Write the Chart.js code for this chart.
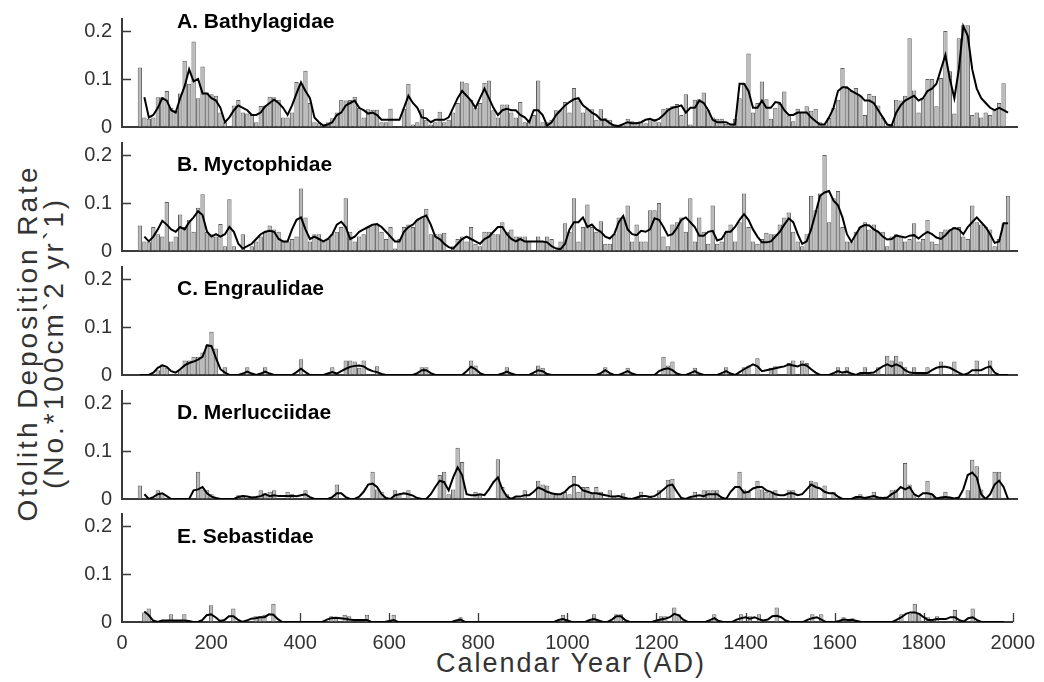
<!DOCTYPE html>
<html>
<head>
<meta charset="utf-8">
<script src="https://cdn.jsdelivr.net/npm/chart.js@4.4.1/dist/chart.umd.min.js"></script>
<style>
  body { margin: 0; background: #fff; font-family: "Liberation Sans", Arial, Helvetica, sans-serif; }
  #wrap { position: relative; width: 1044px; height: 682px; overflow: hidden; background: #fff; }
  canvas { position: absolute; left: 0; }
  .ptitle { position: absolute; left: 177px; font-weight: bold; font-size: 21px; line-height: 24px; color: #000; white-space: nowrap; }
  #ytitle { position: absolute; left: 41px; top: 343px; transform: translate(-50%, -50%) rotate(-90deg);
            white-space: nowrap; text-align: center; font-size: 28px; line-height: 26px; letter-spacing: 3px; color: #333; }
  #xtitle { position: absolute; left: 571px; top: 663px; transform: translate(-50%, -50%);
            white-space: nowrap; font-size: 27px; line-height: 30px; letter-spacing: 2px; color: #333; }
</style>
</head>
<body>
<div id="wrap">
  <div id="ytitle">Otolith Deposition Rate<br>(No.*100cm`2 yr`1)</div>
  <div id="xtitle">Calendar Year (AD)</div>
</div>
<script>
// --- DATA (10-yr bins, first bin at 40 AD) ---
const firstYear = 40, binStep = 10, nBins = 195;
const years = Array.from({ length: nBins }, (_, i) => firstYear + i * binStep);
const xTicks = [0, 200, 400, 600, 800, 1000, 1200, 1400, 1600, 1800, 2000];
const yTicks = [0, 0.1, 0.2];

const titles = ['A. Bathylagidae', 'B. Myctophidae', 'C. Engraulidae', 'D. Merlucciidae', 'E. Sebastidae'];

// A. Bathylagidae
const barsA = [
  0.124, 0.02, 0.017, 0.02, 0.062, 0.062, 0.075, 0.04, 0.035, 0.07, 0.138, 0.09, 0.178, 0.06, 0.126, 0.072, 0.068, 0.065, 0.03, 0.01,
  0, 0.045, 0.056, 0.03, 0.028, 0.025, 0.01, 0.044, 0.045, 0.063, 0.062, 0.057, 0.02, 0.02, 0.03, 0.094, 0.09, 0.117, 0.05, 0.01,
  0.008, 0, 0.01, 0.018, 0.03, 0.057, 0.055, 0.056, 0.063, 0.04, 0.02, 0.037, 0.036, 0.036, 0.01, 0.01, 0.038, 0, 0, 0.038,
  0.09, 0.005, 0.01, 0.037, 0.015, 0.005, 0.01, 0.032, 0.01, 0.015, 0.03, 0.05, 0.095, 0.091, 0.057, 0.04, 0.05, 0.092, 0.097, 0.035,
  0.02, 0.047, 0.047, 0.03, 0.02, 0.052, 0.01, 0.015, 0.025, 0.097, 0.01, 0.01, 0.015, 0.035, 0.035, 0.052, 0.03, 0.081, 0.055, 0.03,
  0.038, 0.037, 0.015, 0.037, 0.018, 0.015, 0.005, 0, 0.005, 0.017, 0.012, 0.01, 0.01, 0.008, 0.017, 0.017, 0.01, 0.038, 0.04, 0.043,
  0.048, 0.025, 0.068, 0.005, 0.057, 0.058, 0.072, 0.035, 0.02, 0.017, 0.017, 0.007, 0.005, 0.017, 0.06, 0.091, 0.153, 0.03, 0.05, 0.095,
  0.058, 0.017, 0.04, 0.048, 0.074, 0.024, 0.012, 0.038, 0.031, 0.043, 0.034, 0.038, 0.01, 0.005, 0.019, 0.04, 0.057, 0.123, 0.081, 0.075,
  0.081, 0.065, 0.025, 0.069, 0.065, 0.045, 0.02, 0.003, 0.005, 0.057, 0.055, 0.065, 0.185, 0.076, 0.03, 0.06, 0.1, 0.1, 0.043, 0.102,
  0.2, 0.116, 0.028, 0.185, 0.212, 0.212, 0.025, 0.03, 0.02, 0.03, 0.025, 0.035, 0.05, 0.091, 0
];
const lineA = [
  null, 0.062, 0.02, 0.025, 0.04, 0.06, 0.055, 0.035, 0.03, 0.06, 0.085, 0.12, 0.095, 0.1, 0.07, 0.07, 0.06, 0.055, 0.04, 0.01,
  0.02, 0.035, 0.045, 0.04, 0.035, 0.025, 0.025, 0.03, 0.043, 0.05, 0.057, 0.05, 0.04, 0.025, 0.045, 0.07, 0.093, 0.075, 0.06, 0.02,
  0.01, 0.003, 0.005, 0.01, 0.025, 0.03, 0.045, 0.05, 0.055, 0.04, 0.035, 0.028, 0.03, 0.025, 0.015, 0.015, 0.015, 0.015, 0.015, 0.04,
  0.065, 0.05, 0.04, 0.02, 0.018, 0.01, 0.015, 0.015, 0.015, 0.02, 0.04, 0.06, 0.075, 0.065, 0.055, 0.04, 0.06, 0.08, 0.06, 0.04,
  0.025, 0.035, 0.038, 0.035, 0.035, 0.025, 0.02, 0.01, 0.035, 0.035, 0.025, 0.003, 0.01, 0.025, 0.035, 0.045, 0.052, 0.058, 0.06, 0.045,
  0.038, 0.03, 0.025, 0.015, 0.015, 0.008, 0.003, 0.002, 0.006, 0.01, 0.008, 0.008, 0.01, 0.015, 0.017, 0.013, 0.017, 0.025, 0.035, 0.04,
  0.042, 0.045, 0.03, 0.04, 0.04, 0.055, 0.05, 0.035, 0.015, 0.01, 0.01, 0.01, 0.005, 0.005, 0.09, 0.09, 0.075, 0.04, 0.04, 0.055,
  0.04, 0.04, 0.052, 0.05, 0.035, 0.025, 0.025, 0.03, 0.03, 0.03, 0.02, 0.012, 0.005, 0.005, 0.02, 0.04, 0.075, 0.083, 0.083, 0.075,
  0.07, 0.065, 0.055, 0.055, 0.05, 0.035, 0.02, 0.005, 0.003, 0.03, 0.045, 0.055, 0.06, 0.065, 0.055, 0.06, 0.075, 0.08, 0.09, 0.12,
  0.15, 0.1, 0.06, 0.12, 0.21, 0.19, 0.12, 0.08, 0.06, 0.05, 0.04, 0.035, 0.04, 0.035, 0.03
];

// B. Myctophidae
const barsB = [
  0.053, 0.02, 0.018, 0.05, 0.035, 0.03, 0.102, 0.02, 0.03, 0.076, 0.05, 0.065, 0.04, 0.09, 0.118, 0.04, 0.035, 0.03, 0.056, 0.01,
  0.108, 0.01, 0, 0.035, 0, 0.01, 0.02, 0.03, 0.04, 0.053, 0.045, 0.04, 0.02, 0.02, 0.025, 0.03, 0.13, 0.07, 0.02, 0.035,
  0.035, 0.02, 0.025, 0.035, 0.04, 0.05, 0.11, 0.04, 0.02, 0.03, 0.035, 0.05, 0.055, 0.055, 0.04, 0.025, 0.05, 0.005, 0.025, 0.05,
  0.055, 0.05, 0.065, 0.07, 0.088, 0.035, 0.035, 0.035, 0.038, 0, 0.01, 0.025, 0.03, 0.02, 0.05, 0.015, 0.01, 0.04, 0.04, 0.035,
  0.035, 0.06, 0.04, 0.045, 0.03, 0.03, 0.03, 0.02, 0, 0.03, 0.02, 0.03, 0.025, 0, 0.02, 0.058, 0.04, 0.11, 0.02, 0.05,
  0.097, 0.05, 0.04, 0.062, 0.015, 0.015, 0.035, 0.07, 0.07, 0.095, 0.02, 0.055, 0.02, 0.02, 0.085, 0.085, 0.1, 0.03, 0.01, 0.055,
  0.06, 0.07, 0.04, 0.11, 0.02, 0.07, 0.04, 0.015, 0.095, 0.015, 0.02, 0.04, 0.055, 0.02, 0.06, 0.12, 0.05, 0.02, 0.015, 0.025,
  0.038, 0.035, 0.035, 0.055, 0.07, 0.08, 0.04, 0.02, 0.01, 0.035, 0.115, 0.085, 0.12, 0.2, 0.06, 0.11, 0.125, 0.05, 0.02, 0.02,
  0.04, 0.05, 0.06, 0.045, 0.055, 0.04, 0.04, 0.01, 0.03, 0.035, 0.03, 0.02, 0.025, 0.058, 0.02, 0.025, 0.065, 0.02, 0.015, 0.04,
  0.045, 0.045, 0.05, 0.05, 0.03, 0.025, 0.095, 0.06, 0.055, 0.05, 0.045, 0.01, 0.025, 0.058, 0.115
];
const lineB = [
  null, 0.03, 0.02, 0.03, 0.045, 0.063, 0.055, 0.045, 0.04, 0.05, 0.045, 0.06, 0.07, 0.083, 0.075, 0.04, 0.03, 0.035, 0.03, 0.035,
  0.05, 0.04, 0.015, 0.005, 0.01, 0.015, 0.025, 0.035, 0.04, 0.042, 0.04, 0.025, 0.02, 0.02, 0.045, 0.065, 0.07, 0.045, 0.025, 0.03,
  0.025, 0.02, 0.025, 0.035, 0.055, 0.061, 0.05, 0.025, 0.03, 0.04, 0.045, 0.05, 0.055, 0.056, 0.05, 0.04, 0.03, 0.02, 0.02, 0.04,
  0.05, 0.055, 0.065, 0.07, 0.074, 0.055, 0.03, 0.025, 0.015, 0.008, 0.005, 0.015, 0.025, 0.03, 0.025, 0.02, 0.015, 0.025, 0.03, 0.04,
  0.05, 0.05, 0.035, 0.025, 0.02, 0.025, 0.02, 0.02, 0.02, 0.02, 0.02, 0.018, 0.01, 0.005, 0.004, 0.015, 0.045, 0.06, 0.06, 0.07,
  0.05, 0.055, 0.045, 0.04, 0.03, 0.026, 0.035, 0.06, 0.073, 0.045, 0.035, 0.033, 0.042, 0.04, 0.045, 0.068, 0.065, 0.05, 0.032, 0.035,
  0.048, 0.065, 0.07, 0.06, 0.05, 0.032, 0.032, 0.04, 0.042, 0.022, 0.025, 0.04, 0.04, 0.05, 0.065, 0.077, 0.065, 0.045, 0.03, 0.018,
  0.018, 0.02, 0.03, 0.04, 0.055, 0.068, 0.06, 0.035, 0.015, 0.02, 0.045, 0.079, 0.115, 0.122, 0.125, 0.105, 0.095, 0.07, 0.035, 0.019,
  0.035, 0.05, 0.054, 0.053, 0.045, 0.04, 0.03, 0.024, 0.025, 0.032, 0.03, 0.028, 0.032, 0.033, 0.026, 0.034, 0.04, 0.035, 0.028, 0.025,
  0.033, 0.043, 0.048, 0.045, 0.035, 0.05, 0.06, 0.07, 0.06, 0.05, 0.035, 0.017, 0.02, 0.058, 0.058
];

// C. Engraulidae
const barsC = [
  0, 0, 0, 0, 0.01, 0.022, 0.015, 0, 0, 0.01, 0.03, 0.03, 0.038, 0.038, 0.047, 0.062, 0.09, 0.055, 0, 0.016,
  0, 0, 0, 0, 0.016, 0, 0, 0, 0.016, 0, 0, 0, 0, 0, 0, 0, 0.033, 0, 0, 0,
  0, 0, 0, 0.016, 0, 0, 0.03, 0.03, 0.028, 0.015, 0.03, 0, 0, 0.018, 0, 0, 0, 0, 0, 0,
  0, 0, 0, 0.016, 0.016, 0, 0, 0, 0, 0, 0, 0, 0, 0, 0.03, 0.02, 0, 0, 0, 0,
  0, 0, 0.016, 0, 0, 0, 0, 0, 0, 0.02, 0.015, 0, 0, 0, 0, 0, 0, 0, 0, 0,
  0, 0, 0, 0, 0.016, 0, 0, 0, 0, 0.015, 0, 0, 0, 0, 0, 0, 0, 0.038, 0.02, 0.028,
  0, 0, 0, 0, 0.015, 0, 0, 0, 0, 0, 0, 0.016, 0, 0, 0, 0.016, 0.02, 0, 0.035, 0,
  0, 0.015, 0.018, 0, 0, 0.025, 0.03, 0, 0.03, 0.025, 0, 0, 0, 0, 0, 0, 0.016, 0, 0.016, 0,
  0, 0, 0.016, 0, 0, 0.016, 0, 0.04, 0.03, 0.04, 0.028, 0.016, 0, 0.016, 0, 0, 0.016, 0, 0, 0.028,
  0, 0, 0.028, 0, 0, 0, 0, 0.03, 0, 0, 0.03, 0, 0, 0, 0
];
const lineC = [
  0, 0, 0, 0.005, 0.015, 0.02, 0.017, 0.008, 0.005, 0.012, 0.02, 0.025, 0.028, 0.032, 0.038, 0.062, 0.06, 0.035, 0.012, 0.005,
  0, 0, 0, 0.003, 0.007, 0.003, 0, 0.003, 0.007, 0.003, 0, 0, 0, 0, 0, 0.006, 0.013, 0.006, 0, 0,
  0, 0, 0.003, 0.006, 0.003, 0.008, 0.013, 0.017, 0.019, 0.02, 0.018, 0.012, 0.008, 0.006, 0.002, 0, 0, 0, 0, 0,
  0, 0, 0.004, 0.01, 0.01, 0.004, 0, 0, 0, 0, 0, 0, 0, 0.008, 0.017, 0.012, 0.004, 0, 0, 0,
  0, 0.003, 0.007, 0.003, 0, 0, 0, 0, 0.005, 0.01, 0.008, 0.002, 0, 0, 0, 0, 0, 0, 0, 0,
  0, 0, 0, 0.004, 0.01, 0.004, 0, 0, 0.004, 0.008, 0.003, 0, 0, 0, 0, 0, 0.008, 0.012, 0.014, 0.01,
  0.003, 0, 0, 0.004, 0.008, 0.003, 0, 0, 0, 0, 0.004, 0.008, 0.003, 0, 0.006, 0.012, 0.017, 0.022, 0.018, 0.008,
  0.01, 0.012, 0.014, 0.016, 0.018, 0.022, 0.02, 0.018, 0.022, 0.02, 0.012, 0.005, 0, 0, 0, 0.004, 0.008, 0.005, 0.007, 0.003,
  0, 0.004, 0.004, 0.004, 0.005, 0.012, 0.018, 0.022, 0.018, 0.022, 0.018, 0.01, 0.005, 0.004, 0.004, 0.004, 0.004, 0.01, 0.015, 0.017,
  0.017, 0.015, 0.01, 0.005, 0, 0.003, 0.01, 0.01, 0.01, 0.015, 0.018, 0.005, 0, 0, 0
];

// D. Merlucciidae
const barsD = [
  0.028, 0, 0, 0, 0.018, 0.012, 0, 0, 0, 0, 0, 0, 0, 0.057, 0.02, 0.018, 0.01, 0, 0, 0,
  0, 0, 0.008, 0.008, 0, 0, 0, 0.018, 0.012, 0.015, 0.018, 0, 0, 0.015, 0.01, 0, 0, 0.018, 0, 0,
  0, 0, 0, 0, 0.03, 0, 0, 0, 0, 0, 0, 0, 0.057, 0.02, 0.015, 0, 0, 0.018, 0.01, 0,
  0.018, 0, 0, 0, 0, 0, 0, 0.05, 0.057, 0.01, 0.02, 0.107, 0.077, 0, 0, 0.015, 0.01, 0, 0, 0,
  0.083, 0.025, 0.01, 0, 0, 0, 0.018, 0, 0, 0.038, 0.03, 0.028, 0.01, 0.012, 0.01, 0.015, 0.01, 0.048, 0.015, 0.025,
  0.025, 0.01, 0.025, 0.015, 0, 0.018, 0.005, 0, 0.012, 0, 0, 0, 0.015, 0, 0.007, 0, 0.018, 0, 0.04, 0.042,
  0, 0, 0, 0, 0.015, 0, 0.018, 0.018, 0.018, 0.018, 0, 0, 0, 0, 0.057, 0.02, 0.015, 0, 0.038, 0.02,
  0.015, 0.012, 0.018, 0, 0, 0.018, 0.018, 0, 0, 0, 0.038, 0.035, 0, 0.028, 0, 0.015, 0, 0, 0, 0,
  0, 0.01, 0, 0, 0.015, 0, 0, 0, 0.018, 0.02, 0, 0.075, 0.03, 0.01, 0, 0, 0.038, 0.01, 0, 0,
  0.015, 0, 0, 0, 0, 0.018, 0.082, 0.068, 0.02, 0, 0, 0.057, 0.057, 0, 0
];
const lineD = [
  null, 0.01, 0, 0.004, 0.01, 0.012, 0.006, 0, 0, 0, 0, 0, 0.018, 0.02, 0.025, 0.012, 0.005, 0.002, 0, 0,
  0, 0, 0.004, 0.006, 0.005, 0.003, 0.004, 0.006, 0.01, 0.006, 0.008, 0.006, 0.006, 0.006, 0.007, 0.006, 0.008, 0.01, 0.004, 0,
  0, 0, 0, 0.004, 0.012, 0.012, 0.004, 0, 0, 0.005, 0.015, 0.03, 0.032, 0.025, 0.01, 0.002, 0, 0.008, 0.01, 0.012,
  0.01, 0.007, 0.002, 0, 0, 0.01, 0.025, 0.038, 0.035, 0.018, 0.045, 0.066, 0.05, 0.01, 0.008, 0.008, 0.01, 0.008, 0.02, 0.035,
  0.045, 0.02, 0.005, 0, 0.005, 0.005, 0.008, 0.008, 0.015, 0.024, 0.02, 0.015, 0.012, 0.01, 0.01, 0.015, 0.025, 0.03, 0.028, 0.018,
  0.015, 0.012, 0.012, 0.01, 0.008, 0.006, 0.005, 0.006, 0.003, 0.001, 0, 0.003, 0.006, 0.006, 0.004, 0.006, 0.012, 0.02, 0.028, 0.03,
  0.015, 0.002, 0, 0.004, 0.006, 0.008, 0.006, 0.01, 0.01, 0.01, 0.003, 0, 0.015, 0.025, 0.025, 0.013, 0.015, 0.022, 0.025, 0.025,
  0.018, 0.015, 0.01, 0.008, 0.008, 0.012, 0.012, 0.008, 0.01, 0.02, 0.03, 0.025, 0.022, 0.015, 0.012, 0.012, 0.005, 0, 0, 0,
  0.004, 0.004, 0.002, 0.004, 0.006, 0.003, 0.002, 0.003, 0.01, 0.015, 0.025, 0.02, 0.025, 0.01, 0.005, 0.012, 0.012, 0.01, 0.001, 0.003,
  0.004, 0.003, 0.001, 0.003, 0.02, 0.05, 0.055, 0.045, 0.01, 0, 0.01, 0.03, 0.038, 0.025, 0
];

// E. Sebastidae
const barsE = [
  0, 0.02, 0.028, 0, 0, 0, 0, 0.016, 0, 0, 0.016, 0, 0, 0, 0, 0, 0.035, 0, 0, 0,
  0, 0.028, 0, 0, 0, 0, 0.012, 0.012, 0.015, 0, 0.038, 0, 0, 0, 0, 0, 0, 0, 0, 0,
  0, 0, 0, 0.012, 0.01, 0, 0.015, 0.012, 0, 0, 0, 0.015, 0, 0, 0, 0, 0, 0.015, 0, 0,
  0, 0, 0, 0, 0, 0, 0, 0, 0, 0, 0, 0, 0.01, 0, 0, 0, 0, 0, 0, 0,
  0, 0, 0, 0, 0, 0, 0, 0, 0, 0, 0, 0, 0, 0, 0, 0.015, 0, 0, 0, 0,
  0, 0, 0.016, 0, 0, 0, 0, 0.016, 0.016, 0, 0, 0, 0, 0, 0, 0, 0, 0.012, 0.012, 0,
  0.03, 0.016, 0, 0, 0, 0, 0, 0, 0, 0.016, 0, 0, 0, 0, 0, 0.016, 0, 0.012, 0, 0.016,
  0, 0, 0, 0.03, 0, 0, 0, 0, 0, 0, 0, 0.016, 0, 0.016, 0, 0, 0, 0, 0.01, 0,
  0.008, 0, 0, 0, 0, 0, 0, 0, 0, 0, 0, 0.016, 0, 0.016, 0.038, 0.018, 0, 0.01, 0, 0.012,
  0, 0, 0, 0.025, 0, 0, 0, 0.028, 0, 0, 0, 0, 0, 0, 0
];
const lineE = [
  null, 0.022, 0.014, 0.003, 0, 0.003, 0.003, 0.003, 0.003, 0.003, 0.003, 0.002, 0, 0, 0.004, 0.014, 0.016, 0.01, 0.002, 0.004,
  0.012, 0.012, 0.005, 0, 0.003, 0.007, 0.008, 0.01, 0.01, 0.016, 0.015, 0.006, 0, 0, 0, 0, 0, 0, 0, 0,
  0, 0, 0.005, 0.008, 0.009, 0.008, 0.007, 0.005, 0.004, 0.004, 0.004, 0.004, 0, 0, 0, 0, 0.002, 0.004, 0, 0,
  0, 0, 0, 0, 0, 0, 0, 0, 0, 0, 0, 0.003, 0.005, 0, 0, 0, 0, 0, 0, 0,
  0, 0, 0, 0, 0, 0, 0, 0, 0, 0, 0, 0, 0, 0, 0.004, 0.006, 0.003, 0, 0, 0,
  0, 0.004, 0.006, 0.003, 0, 0, 0.005, 0.012, 0.012, 0.004, 0, 0, 0, 0, 0, 0, 0.003, 0.005, 0.007, 0.01,
  0.017, 0.014, 0.005, 0, 0, 0, 0, 0, 0.004, 0.008, 0.002, 0, 0, 0, 0.005, 0.008, 0.01, 0.007, 0.01, 0.006,
  0.003, 0.005, 0.012, 0.013, 0.01, 0.003, 0, 0, 0, 0, 0.005, 0.008, 0.01, 0.005, 0, 0, 0, 0.002, 0.005, 0.004,
  0.004, 0.002, 0, 0, 0, 0, 0, 0, 0, 0, 0.005, 0.01, 0.017, 0.02, 0.02, 0.017, 0.01, 0.004, 0.004, 0.006,
  0.006, 0.006, 0.01, 0.01, 0.004, 0.001, 0.008, 0.01, 0.004, 0, 0, 0, 0, 0, 0
];

const panelBars = [barsA, barsB, barsC, barsD, barsE];
const panelLines = [lineA, lineB, lineC, lineD, lineE];

// --- LAYOUT / STYLE ---
const AXIS_COLOR = '#3a3a3a';
const TEXT_COLOR = '#333333';
const PLOT_H = 108;          // height of each panel's plot area
const PAD_T = 26;            // room for the y tick label overflow
const zeroY = [127, 251, 375, 499, 622];
const titleY = [21, 164, 288, 412, 536];   // centre of panel titles
const Y_MAX = 0.225;

Chart.defaults.font.family = '"Liberation Sans", Arial, Helvetica, sans-serif';
Chart.defaults.color = TEXT_COLOR;

// inward tick marks (MATLAB style)
const inwardTicks = {
  id: 'inwardTicks',
  beforeDatasetsDraw(chart, args, opts) {
    const { ctx, chartArea: a, scales: { x, y } } = chart;
    ctx.save();
    ctx.strokeStyle = AXIS_COLOR;
    ctx.lineWidth = 1.3;
    ctx.beginPath();
    y.ticks.forEach(t => {
      if (t.value <= 0) return;
      const py = Math.round(y.getPixelForValue(t.value)) + 0.5;
      ctx.moveTo(a.left, py); ctx.lineTo(a.left + 9, py);
    });
    if (opts.xTicks) {
      x.ticks.forEach(t => {
        if (t.value <= 0) return;
        const px = Math.round(x.getPixelForValue(t.value)) + 0.5;
        ctx.moveTo(px, a.bottom); ctx.lineTo(px, a.bottom - 9);
      });
    }
    ctx.stroke();
    ctx.restore();
  }
};

const wrap = document.getElementById('wrap');

panelBars.forEach((bars, i) => {
  const last = i === panelBars.length - 1;
  const xH = last ? 34 : 0;
  const padB = last ? 26 : 26;
  const h = PAD_T + PLOT_H + xH + padB;

  const cv = document.createElement('canvas');
  cv.width = 1044; cv.height = h;
  cv.style.top = (zeroY[i] - PLOT_H - PAD_T) + 'px';
  wrap.appendChild(cv);

  const t = document.createElement('div');
  t.className = 'ptitle';
  t.style.top = (titleY[i] - 12) + 'px';
  t.textContent = titles[i];
  wrap.appendChild(t);

  new Chart(cv.getContext('2d'), {
    data: {
      datasets: [
        {
          type: 'line',
          data: years.map((yr, k) => ({ x: yr, y: panelLines[i][k] })),
          borderColor: '#000',
          borderWidth: 2,
          pointRadius: 0,
          tension: 0,
          spanGaps: false,
          order: 0
        },
        {
          type: 'bar',
          data: years.map((yr, k) => ({ x: yr, y: bars[k] })),
          backgroundColor: '#b9b9b9',
          borderColor: '#5e5e5e',
          borderWidth: 1,
          borderSkipped: 'start',
          barPercentage: 0.97,
          categoryPercentage: 1,
          order: 1
        }
      ]
    },
    options: {
      responsive: false,
      animation: false,
      devicePixelRatio: 1,
      layout: { autoPadding: false, padding: { left: 72, right: 27, top: PAD_T, bottom: padB } },
      plugins: { legend: { display: false }, tooltip: { enabled: false }, inwardTicks: { xTicks: last } },
      scales: {
        x: {
          type: 'linear',
          min: 0, max: 2000,
          offset: false,
          afterBuildTicks: s => { s.ticks = xTicks.map(v => ({ value: v })); },
          ticks: { display: last, padding: 9, font: { size: 20 }, color: TEXT_COLOR, maxRotation: 0, callback: v => String(v) },
          grid: { display: true, drawOnChartArea: false, drawTicks: false },
          border: { color: AXIS_COLOR, width: 2 },
          afterFit: s => { s.height = xH; }
        },
        y: {
          min: 0, max: Y_MAX,
          afterBuildTicks: s => { s.ticks = yTicks.map(v => ({ value: v })); },
          ticks: {
            padding: 10,
            font: { size: 20 },
            color: TEXT_COLOR,
            callback: v => (v === 0 ? '0' : v.toFixed(1))
          },
          grid: { display: true, drawOnChartArea: false, drawTicks: false },
          border: { color: AXIS_COLOR, width: 2 },
          afterFit: s => { s.width = 50; }
        }
      }
    },
    plugins: [inwardTicks]
  });
});
</script>
</body>
</html>
